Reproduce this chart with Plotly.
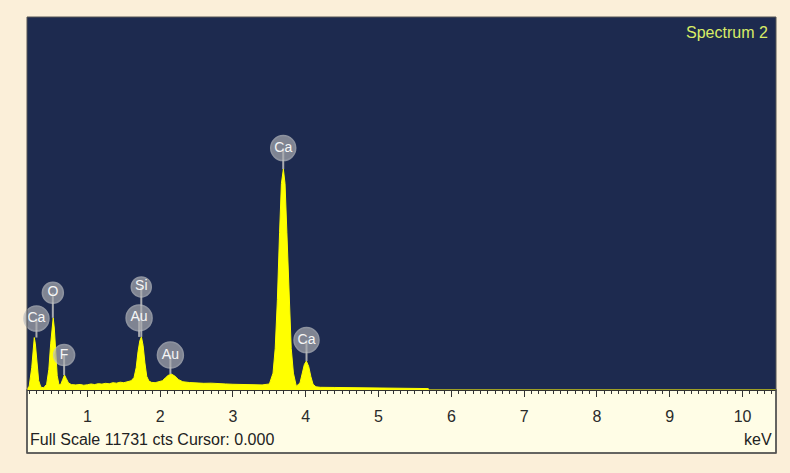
import plotly.graph_objects as go

# ---------------- data ----------------
energy_kev = [0.17, 0.2, 0.235, 0.255, 0.27, 0.285, 0.305, 0.33, 0.36, 0.40,
              0.44, 0.47, 0.495, 0.515, 0.53, 0.545, 0.565, 0.585, 0.61, 0.635,
              0.66, 0.685, 0.71, 0.74, 0.78, 0.84, 0.9, 0.95, 1.0, 1.05,
              1.1, 1.15, 1.2, 1.25, 1.3, 1.35, 1.4, 1.45, 1.5, 1.55,
              1.6, 1.64, 1.67, 1.695, 1.72, 1.742, 1.765, 1.79, 1.815, 1.845,
              1.88, 1.93, 1.98, 2.03, 2.07, 2.11, 2.155, 2.2, 2.25, 2.31,
              2.4, 2.5, 2.6, 2.7, 2.8, 2.9, 3.0, 3.1, 3.2, 3.3,
              3.4, 3.5, 3.55, 3.58, 3.61, 3.64, 3.665, 3.692, 3.715, 3.74,
              3.77, 3.80, 3.83, 3.87, 3.92, 3.95, 3.98, 4.008, 4.04, 4.07,
              4.10, 4.14, 4.2, 4.4, 4.6, 4.8, 5.0, 5.2, 5.4, 5.6,
              5.68, 5.7, 10.46]
counts = [30, 120, 700, 1300, 1650, 1450, 850, 300, 90, 70,
          180, 650, 1450, 2050, 2270, 1950, 1150, 450, 160, 180,
          330, 470, 360, 220, 170, 160, 175, 150, 165, 190,
          170, 200, 185, 210, 195, 230, 215, 245, 230, 260,
          290, 390, 700, 1200, 1550, 1670, 1400, 850, 430, 280,
          240, 230, 250, 290, 380, 460, 500, 440, 330, 260,
          235, 220, 210, 215, 195, 190, 180, 175, 170, 165,
          160, 190, 530, 1310, 2840, 4960, 6490, 6950, 6490, 4960,
          2840, 1310, 530, 120, 220, 480, 800, 910, 740, 420,
          180, 100, 85, 80, 75, 70, 65, 60, 55, 50,
          45, 0, 0]

full_scale = 11731
x_range = [0.17, 10.46]
tick_values = [1, 2, 3, 4, 5, 6, 7, 8, 9, 10]

# peak labels
label_text = ["Ca", "O", "F", "Au", "Si", "Au", "Ca", "Ca"]
label_kev = [0.30, 0.525, 0.68, 1.71, 1.74, 2.14, 3.69, 4.01]
label_tip = [1650, 2270, 470, 1670, 1670, 500, 6950, 910]
label_lift_px = [19, 25, 20, 19, 50, 19, 21, 21]
label_size = [25, 21, 21, 26, 20, 26, 25, 25]

# ---------------- layout geometry ----------------
W, H = 790, 473
ML, MR, MT, MB = 27, 14, 17, 83
plot_h = H - MT - MB
cpp = full_scale / plot_h  # counts per pixel

NAVY = "#1D2A4F"
BEIGE = "#FBEFD9"
CREAM = "#FFFDE6"
YELLOW = "#FFFF00"
GREY = "#A9ABAF"
FONT = "Liberation Sans, Arial, sans-serif"

fig = go.Figure()

fig.add_trace(go.Scatter(
    x=energy_kev, y=counts, mode="lines",
    line=dict(color=YELLOW, width=1),
    fill="tozeroy", fillcolor=YELLOW, hoverinfo="skip", showlegend=False))

# stems
sx, sy = [], []
for e, t, lift in zip(label_kev, label_tip, label_lift_px):
    sx += [e, e, None]
    sy += [t, t + lift * cpp, None]
fig.add_trace(go.Scatter(x=sx, y=sy, mode="lines",
                         line=dict(color=GREY, width=2),
                         hoverinfo="skip", showlegend=False, cliponaxis=False))

# circles with element symbols
fig.add_trace(go.Scatter(
    x=label_kev,
    y=[t + lift * cpp for t, lift in zip(label_tip, label_lift_px)],
    mode="markers+text", text=label_text, textposition="middle center",
    textfont=dict(family=FONT, size=14, color="#F6F6F6"),
    marker=dict(size=label_size, color=GREY, line=dict(color="#BDBFC2", width=1.5)),
    hoverinfo="skip", showlegend=False, cliponaxis=False))

box_bottom = -(453 - (H - MB)) / plot_h

fig.update_layout(
    width=W, height=H,
    margin=dict(l=ML, r=MR, t=MT, b=MB),
    paper_bgcolor=BEIGE, plot_bgcolor=NAVY,
    font=dict(family=FONT, size=16, color="#2A2A2A"),
    xaxis=dict(range=x_range, tickvals=tick_values, ticks="outside",
               ticklen=6, tickcolor="#333", tickwidth=1,
               showline=True, linecolor="#333", linewidth=1,
               showgrid=False, zeroline=False, ticklabelstandoff=6,
               tickfont=dict(family=FONT, size=16, color="#2A2A2A"),
               minor=dict(dtick=0.1, tick0=0, ticks="outside", ticklen=3,
                          tickcolor="#333", showgrid=False)),
    yaxis=dict(range=[0, full_scale], visible=False, showgrid=False,
               zeroline=False),
    shapes=[
        dict(type="rect", xref="paper", yref="paper", x0=0, x1=1,
             y0=box_bottom, y1=0, fillcolor=CREAM,
             line=dict(color="#4A4A4A", width=1.5), layer="below"),
        dict(type="rect", xref="paper", yref="paper", x0=0, x1=1,
             y0=box_bottom, y1=1, fillcolor="rgba(0,0,0,0)",
             line=dict(color="#555", width=1), layer="above"),
    ],
    annotations=[
        dict(text="Full Scale 11731 cts Cursor: 0.000", xref="paper",
             yref="paper", x=0.002, y=(390 - 439) / plot_h, xanchor="left",
             yanchor="middle", showarrow=False,
             font=dict(family=FONT, size=16, color="#222")),
        dict(text="keV", xref="paper", yref="paper", x=0.997,
             y=(390 - 439) / plot_h, xanchor="right", yanchor="middle",
             showarrow=False, font=dict(family=FONT, size=16, color="#222")),
        dict(text="Spectrum 2", xref="paper", yref="paper", x=0.992,
             y=(390 - 32) / plot_h, xanchor="right", yanchor="middle",
             showarrow=False, font=dict(family=FONT, size=16, color="#D8EC66")),
    ],
)

fig.write_html(
    "out.html",
    config={"displayModeBar": False},
    post_script="document.body.style.margin='0';"
                "document.body.style.background='" + BEIGE + "';",
)
